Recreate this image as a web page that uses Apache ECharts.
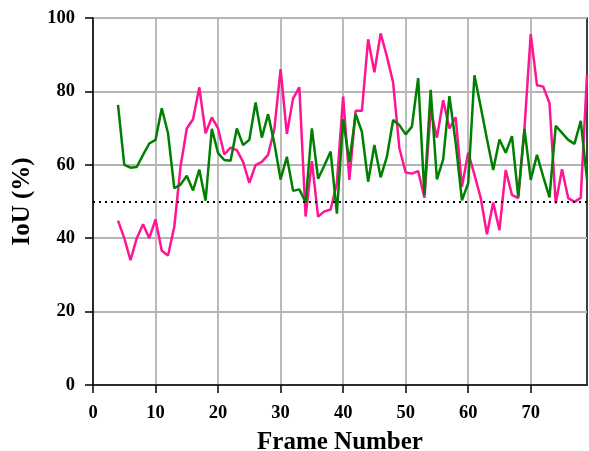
<!DOCTYPE html>
<html>
<head>
<meta charset="utf-8">
<script src="https://cdn.jsdelivr.net/npm/echarts@6/dist/echarts.min.js"></script>
<style>
  html, body { margin: 0; padding: 0; background: #fff; }
  #chart { width: 589px; height: 451px; }
</style>
</head>
<body>
<div id="chart"></div>
<script>
// frames 4..79
const frames = [
  4, 5, 6, 7, 8, 9, 10, 11, 12, 13, 14, 15, 16, 17, 18, 19, 20, 21, 22, 23,
  24, 25, 26, 27, 28, 29, 30, 31, 32, 33, 34, 35, 36, 37, 38, 39, 40, 41, 42, 43,
  44, 45, 46, 47, 48, 49, 50, 51, 52, 53, 54, 55, 56, 57, 58, 59, 60, 61, 62, 63,
  64, 65, 66, 67, 68, 69, 70, 71, 72, 73, 74, 75, 76, 77, 78, 79
]
const greenIoU = [
  76.3, 60, 59.2, 59.4, 62.7, 65.8, 66.8, 75.4, 68.6, 53.6, 54.6, 57, 53, 58.7, 50.2, 69.8, 63.2, 61.3, 61.1, 69.9,
  65.4, 66.8, 77, 67.4, 73.8, 65.9, 56, 62.2, 52.9, 53.3, 49.8, 69.9, 56.2, 59.8, 63.6, 46.7, 72.4, 60.8, 73.8, 69,
  55.4, 65.4, 56.6, 62.2, 72.2, 70.8, 68.3, 70.4, 83.6, 51.8, 80.4, 56, 61.5, 78.7, 66, 50.3, 55, 84.4, 75.8, 67,
  58.6, 66.9, 63.3, 67.8, 51.3, 69.8, 55.9, 62.7, 56.8, 51.1, 70.6, 68.7, 66.8, 65.7, 72, 56
]
const pinkIoU = [
  44.8, 40, 34, 40, 43.8, 40, 45.1, 36.6, 35.3, 43.1, 59.5, 69.9, 72.4, 81.1, 68.6, 72.9, 69.9, 62.8, 64.7, 64,
  60.8, 55.1, 59.9, 60.8, 62.7, 69.7, 86.1, 68.4, 78.1, 81.1, 45.9, 61, 45.9, 47.3, 47.8, 55, 78.6, 55.9, 74.7, 74.7,
  94.2, 85.2, 95.8, 89.5, 82.4, 64.5, 57.9, 57.6, 58.3, 51, 74.9, 67.4, 77.6, 69.9, 72.9, 54, 63.3, 57.3, 51, 41.1,
  49.7, 42.2, 58.6, 51.8, 50.9, 69.9, 95.6, 81.7, 81.3, 76.8, 49.5, 58.8, 50.9, 49.9, 51, 84.5
]
const xTicks = [0, 10, 20, 30, 40, 50, 60, 70]
const yTicks = [0, 20, 40, 60, 80, 100]
const threshold = 50

const font = 'Liberation Serif'
const chart = echarts.init(document.getElementById('chart'), null, { renderer: 'canvas' })

const pairs = (ys) => frames.map((f, i) => [f, ys[i]])
const labelStyle = { fontFamily: font, fontWeight: 'bold', fontSize: 18.5, color: '#000' }
const nameStyle = { fontFamily: font, fontWeight: 'bold', fontSize: 25, color: '#000' }

chart.setOption({
  animation: false,
  grid: {
    left: 93, right: 2, top: 18, bottom: 66,
    outerBoundsMode: 'none',
    containLabel: false,
    show: true, borderColor: '#000', borderWidth: 1.5
  },
  xAxis: {
    type: 'value',
    min: 0, max: 79,
    name: 'Frame Number',
    nameLocation: 'middle',
    nameGap: 45,
    nameTextStyle: nameStyle,
    axisLine: { lineStyle: { color: '#000', width: 1.5 } },
    axisTick: { show: true, length: 8, customValues: xTicks, lineStyle: { color: '#000', width: 1.5 } },
    axisLabel: Object.assign({ customValues: xTicks, margin: 19 }, labelStyle),
    splitLine: { show: true, lineStyle: { color: '#b4b4b4', width: 1.8 } }
  },
  yAxis: {
    type: 'value',
    min: 0, max: 100, interval: 20,
    name: 'IoU (%)',
    nameLocation: 'middle',
    nameGap: 58,
    nameTextStyle: nameStyle,
    axisLine: { show: true, lineStyle: { color: '#000', width: 1.5 } },
    axisTick: { show: true, length: 8, customValues: yTicks, lineStyle: { color: '#000', width: 1.5 } },
    axisLabel: Object.assign({ customValues: yTicks, margin: 18 }, labelStyle),
    splitLine: { show: true, lineStyle: { color: '#b4b4b4', width: 1.8 } }
  },
  series: [
    {
      name: 'green',
      type: 'line',
      data: pairs(greenIoU),
      showSymbol: false,
      lineStyle: { color: '#008000', width: 2.5 },
      itemStyle: { color: '#008000' },
      z: 3
    },
    {
      name: 'pink',
      type: 'line',
      data: pairs(pinkIoU),
      showSymbol: false,
      lineStyle: { color: '#ff1493', width: 2.5 },
      itemStyle: { color: '#ff1493' },
      z: 2,
      markLine: {
        silent: true,
        symbol: 'none',
        label: { show: false },
        lineStyle: { color: '#000', type: [2, 4], width: 2.2 },
        data: [{ yAxis: threshold }]
      }
    }
  ]
})
</script>
</body>
</html>
